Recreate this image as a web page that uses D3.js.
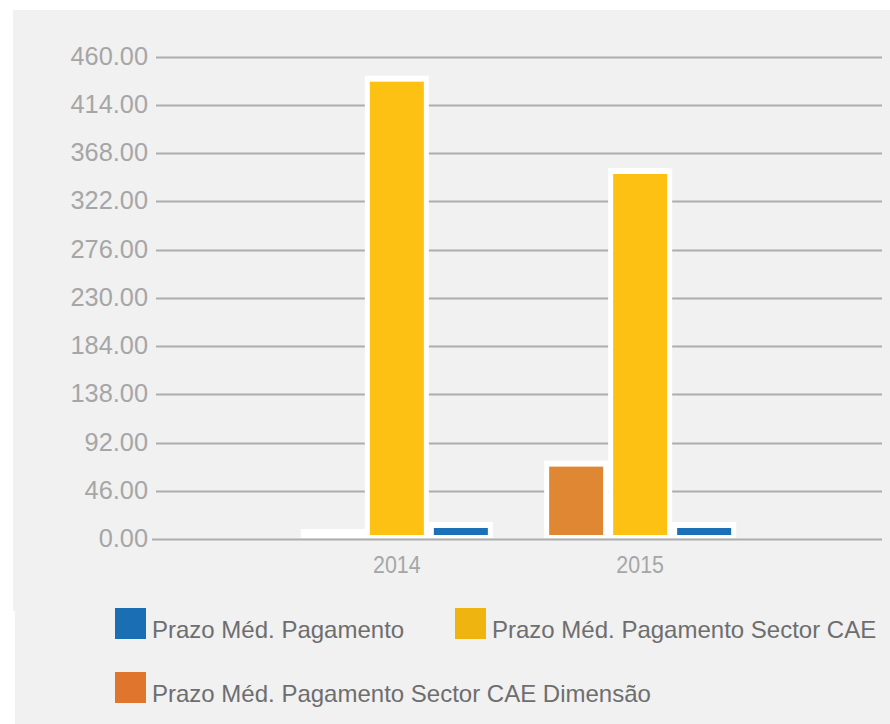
<!DOCTYPE html>
<html><head><meta charset="utf-8">
<script src="https://cdn.jsdelivr.net/npm/d3@7"></script>
<style>html,body{margin:0;padding:0;background:#fff;}svg{display:block;}</style>
</head><body>
<script>
// ---- data ----
const years = ["2014", "2015"];
const seriesNames = [
  "Prazo Méd. Pagamento Sector CAE Dimensão",
  "Prazo Méd. Pagamento Sector CAE",
  "Prazo Méd. Pagamento"
];
const valuesDimensao = [0, 69];
const valuesSectorCAE = [436, 348];
const valuesPagamento = [10.5, 10.5];
const yTicks = [0, 46, 92, 138, 184, 230, 276, 322, 368, 414, 460];
const legendOrder = ["Prazo Méd. Pagamento", "Prazo Méd. Pagamento Sector CAE", "Prazo Méd. Pagamento Sector CAE Dimensão"];

// ---- styles ----
const barColors = {
  "Prazo Méd. Pagamento Sector CAE Dimensão": "#e08733",
  "Prazo Méd. Pagamento Sector CAE": "#fdc113",
  "Prazo Méd. Pagamento": "#1b70b8"
};
const legendColors = {
  "Prazo Méd. Pagamento Sector CAE Dimensão": "#e0752e",
  "Prazo Méd. Pagamento Sector CAE": "#f0b410",
  "Prazo Méd. Pagamento": "#1a6eb3"
};
const seriesValues = [valuesDimensao, valuesSectorCAE, valuesPagamento];

const W = 890, H = 724;
const svg = d3.select("body").append("svg").attr("width", W).attr("height", H);
const font = "'Liberation Sans', Arial, sans-serif";

// backgrounds
svg.append("rect").attr("x", 13).attr("y", 10).attr("width", W - 13).attr("height", 601).attr("fill", "#f1f1f1");
svg.append("rect").attr("x", 15).attr("y", 611).attr("width", W - 15).attr("height", H - 611).attr("fill", "#f1f1f1");

const plotL = 155, plotR = 882;
const y = d3.scaleLinear().domain([0, 460]).range([539, 56.5]);
const x = d3.scalePoint().domain(years).range([plotL, plotR]).padding(0.994);
const xs = d3.scaleBand().domain(seriesNames).range([-96, 96]);

// gridlines
const grid = svg.append("g");
grid.selectAll("line").data(yTicks).join("line")
  .attr("x1", d => d === 0 ? 152 : 156).attr("x2", plotR)
  .attr("y1", d => Math.round(y(d)) + 0.5).attr("y2", d => Math.round(y(d)) + 0.5)
  .attr("stroke", "#adadad").attr("stroke-width", 2);

// y labels
const yl = svg.append("g").attr("font-family", font).attr("font-size", 26).attr("fill", "#a6a6a6");
yl.selectAll("text").data(yTicks).join("text")
  .attr("x", 148).attr("y", d => y(d) + 8).attr("text-anchor", "end")
  .text(d => d3.format(".2f")(d))
  .each(function () { const n = this.getComputedTextLength(); d3.select(this).attr("textLength", n * 0.975).attr("lengthAdjust", "spacingAndGlyphs"); });

// x labels
const xl = svg.append("g").attr("font-family", font).attr("font-size", 23).attr("fill", "#a6a6a6");
xl.selectAll("text").data(years).join("text")
  .attr("x", d => x(d)).attr("y", 573).attr("text-anchor", "middle")
  .text(d => d)
  .each(function () { const n = this.getComputedTextLength(); d3.select(this).attr("textLength", n * 0.93).attr("lengthAdjust", "spacingAndGlyphs"); });

// bars
const bars = [];
seriesNames.forEach((s, si) => years.forEach((yr, yi) => bars.push({ s, yr, v: seriesValues[si][yi] })));
const base = y(0) - 4;
const bg = svg.append("g");
bars.forEach(b => {
  const x0 = x(b.yr) + xs(b.s), bw = xs.bandwidth();
  const top = Math.min(y(b.v), base);
  bg.append("rect").attr("x", x0).attr("y", top - 6).attr("width", bw).attr("height", base - top + 9).attr("fill", "#ffffff");
  if (base - top > 0)
    bg.append("rect").attr("x", x0 + 5).attr("y", top).attr("width", bw - 10).attr("height", base - top).attr("fill", barColors[b.s]);
});

// legend
const legPos = [[115, 608], [455, 608], [115, 672]];
const lg = svg.append("g").attr("font-family", font).attr("font-size", 24).attr("fill", "#6e6e6e");
legendOrder.forEach((name, i) => {
  const [lx, ly] = legPos[i];
  lg.append("rect").attr("x", lx).attr("y", ly).attr("width", 31).attr("height", 31).attr("fill", legendColors[name]);
  lg.append("text").attr("x", lx + 37).attr("y", ly + 30).text(name);
});
</script>
</body></html>
